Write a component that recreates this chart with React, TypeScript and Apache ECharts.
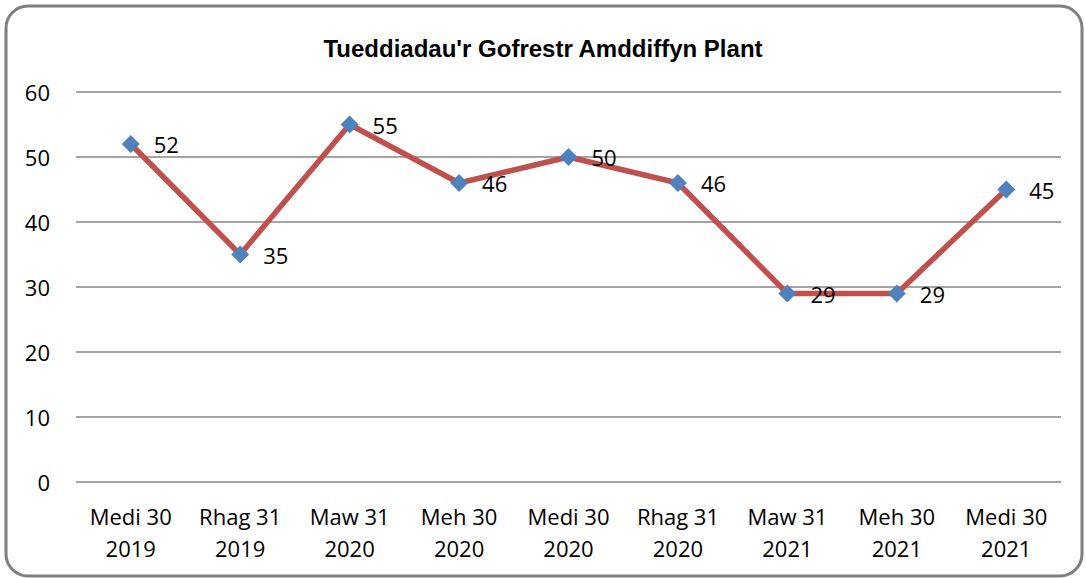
import React, { useEffect, useRef } from "react";
import * as echarts from "echarts";

const categories = [
  "Medi 30\n2019",
  "Rhag 31\n2019",
  "Maw 31\n2020",
  "Meh 30\n2020",
  "Medi 30\n2020",
  "Rhag 31\n2020",
  "Maw 31\n2021",
  "Meh 30\n2021",
  "Medi 30\n2021",
];
const values = [52, 35, 55, 46, 50, 46, 29, 29, 45];
const titleText = "Tueddiadau'r Gofrestr Amddiffyn Plant";

export default function App() {
  const ref = useRef<HTMLDivElement>(null);
  useEffect(() => {
    if (!ref.current) return;
    const chart = echarts.init(ref.current, undefined, { renderer: "svg" });
    const font = "'Open Sans', Lato, sans-serif";
    chart.setOption({
      animation: false,
      backgroundColor: "#ffffff",
      title: {
        text: titleText,
        left: "center",
        top: 31,
        textStyle: {
          fontFamily: "'Liberation Sans Narrow', 'Arial Narrow', 'Liberation Sans', sans-serif",
          fontWeight: "bold",
          fontSize: 24,
          color: "#000",
        },
      },
      graphic: [
        {
          type: "rect",
          shape: { x: 6, y: 6, width: 1076, height: 570, r: 22 },
          style: { fill: "none", stroke: "#7f7f7f", lineWidth: 3 },
          z: 100,
        },
      ],
      grid: { left: 76, right: 25, top: 92, bottom: 96 },
      xAxis: {
        type: "category",
        data: categories,
        boundaryGap: true,
        axisLine: { show: false },
        axisTick: { show: false },
        axisLabel: {
          fontFamily: font,
          fontSize: 22,
          color: "#000",
          lineHeight: 32,
          margin: 18,
          interval: 0,
        },
      },
      yAxis: {
        type: "value",
        min: 0,
        max: 60,
        interval: 10,
        axisLine: { show: false },
        axisTick: { show: false },
        axisLabel: { fontFamily: font, fontSize: 22, color: "#000", margin: 26 },
        splitLine: { lineStyle: { color: "#868686", width: 1.5 } },
      },
      series: [
        {
          type: "line",
          data: values,
          symbol: "diamond",
          symbolSize: 18,
          itemStyle: { color: "#4F81BD" },
          lineStyle: { color: "#C0504D", width: 5.5 },
          label: {
            show: true,
            position: "right",
            distance: 14,
            fontFamily: font,
            fontSize: 22,
            color: "#000",
          },
        },
      ],
    });
    return () => chart.dispose();
  }, []);
  return <div ref={ref} style={{ width: 1086, height: 578, position: "absolute", left: 0, top: 0 }} />;
}
